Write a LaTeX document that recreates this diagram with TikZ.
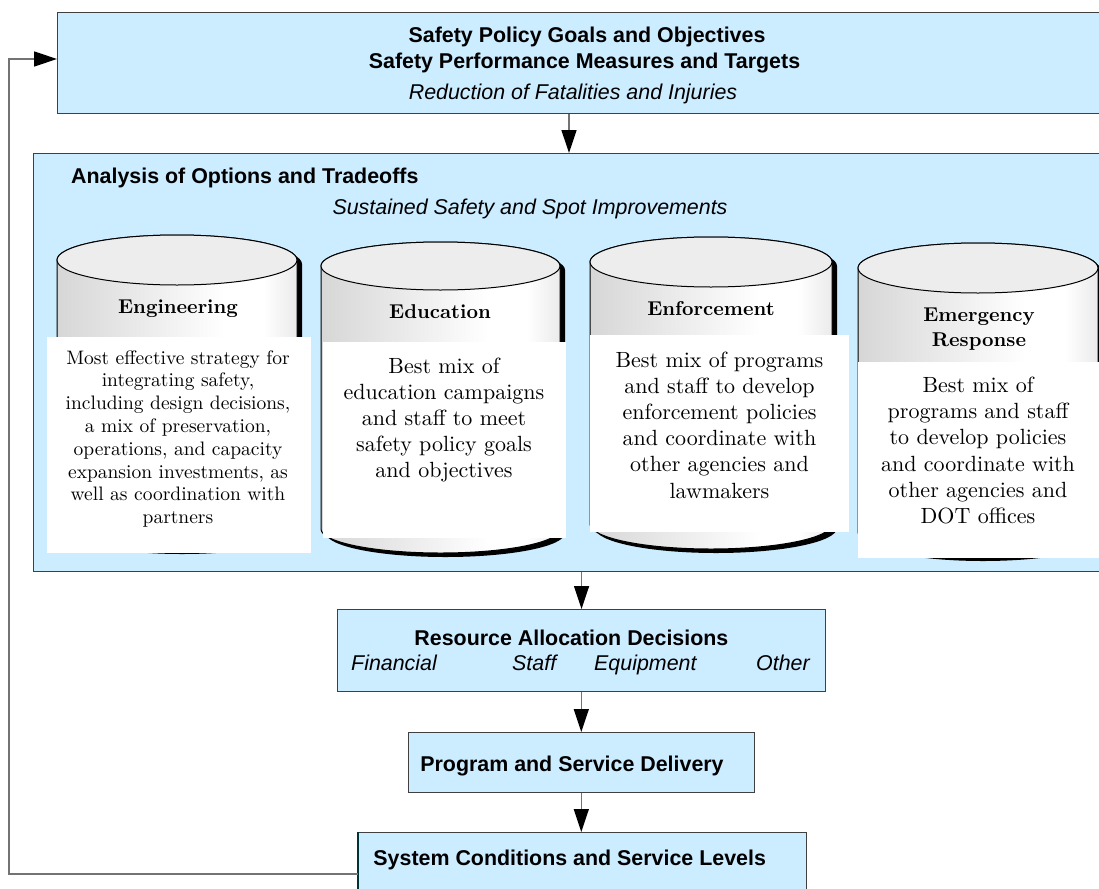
\documentclass[tikz,border=0pt]{standalone}
\usepackage{fontspec}
\setsansfont{Liberation Sans}
\newfontfamily\cylfont[BoldFont=lmroman10-bold.otf]{lmroman10-regular.otf}
\usetikzlibrary{arrows.meta}
\definecolor{boxblue}{RGB}{204,236,255}
\pgfdeclarehorizontalshading{cylsh}{100bp}{color(0bp)=(black!16); color(25bp)=(black!16); color(60bp)=(white); color(68bp)=(white); color(75bp)=(black!8); color(100bp)=(black!8)}
\newcommand{\mycyl}[5]{%
  \pgfmathsetmacro{\cylrx}{(#2-#1)/2}%
  \pgfmathsetmacro{\cylcx}{(#2+#1)/2}%
  \begin{scope}[shift={(5,4)}]
    \fill[black] (#1,#3) -- (#1,#4) arc[start angle=180,end angle=360,x radius=\cylrx pt,y radius=#5pt] -- (#2,#3) arc[start angle=0,end angle=180,x radius=\cylrx pt,y radius=#5pt] -- cycle;
  \end{scope}
  \shadedraw[shading=cylsh, draw=black, line width=1pt] (#1,#3) -- (#1,#4) arc[start angle=180,end angle=360,x radius=\cylrx pt,y radius=#5pt] -- (#2,#3) arc[start angle=0,end angle=180,x radius=\cylrx pt,y radius=#5pt] -- cycle;
  \filldraw[fill=black!7, draw=black, line width=1pt] (\cylcx,#3) ellipse [x radius=\cylrx pt, y radius=#5pt];
}
\begin{document}
\begin{tikzpicture}[x=1pt,y=-1pt,
  bluebox/.style={draw=black!75, line width=1.1pt, fill=boxblue, inner sep=0pt, anchor=north west},
  conn/.style={draw=black!55, line width=1.4pt, -{Triangle[length=23pt,width=15pt,color=black]}},
  ssb/.style={font=\fontsize{21.4}{25}\selectfont\sffamily\bfseries, inner sep=0pt, anchor=base},
  ssi/.style={font=\fontsize{21.4}{25}\selectfont\sffamily\itshape, inner sep=0pt, anchor=base},
  ctitle/.style={font=\cylfont\fontsize{20}{25}\selectfont\bfseries, inner sep=0pt, anchor=base},
  ctext/.style={font=\cylfont\fontsize{22}{26.2}\selectfont, align=center, inner sep=0pt},
  wrect/.style={fill=white, inner sep=0pt, anchor=north west},
]
\path[use as bounding box, clip] (0,0) rectangle (1099,888);
\fill[white] (0,0) rectangle (1099,888);

% boxes
\node[bluebox, minimum width=1060, minimum height=101] (topbox) at (57,12) {};
\node[bluebox, minimum width=1080, minimum height=418] (analysis) at (33,153) {};
\node[bluebox, minimum width=488, minimum height=82] (resource) at (337,609) {};
\node[bluebox, minimum width=345.5, minimum height=60] (program) at (408,732) {};
\node[bluebox, minimum width=448, minimum height=80] (system) at (358,832) {};
\draw[teal!40!black, line width=2pt] (system.north west) -- (system.south west);

% cylinders
\mycyl{57}{297}{260}{525}{25}
\mycyl{321}{560}{266}{529}{24}
\mycyl{590}{832}{262}{524}{25}
\mycyl{858}{1098}{268}{532}{25}

% white text panels
\node[wrect, minimum width=264, minimum height=216] (rEng) at (47,337) {};
\node[wrect, minimum width=243, minimum height=196] (rEdu) at (323,342) {};
\node[wrect, minimum width=259, minimum height=197] (rEnf) at (590,335) {};
\node[wrect, minimum width=245, minimum height=196] (rEme) at (858,362) {};

% cylinder titles
\node[ctitle] (tEng) at (178,313) {Engineering};
\node[ctitle] (tEdu) at (440,318) {Education};
\node[ctitle] (tEnf) at (711,315) {Enforcement};
\node[ctitle, anchor=center, align=center] (tEme) at (979,329.6) {Emergency\\Response};

% cylinder texts
\node[ctext, font=\cylfont\fontsize{19.5}{22.8}\selectfont] (xEng) at (178,439) {Most effective strategy for\\integrating safety,\\including design decisions,\\a mix of preservation,\\operations, and capacity\\expansion investments, as\\well as coordination with\\partners};
\node[ctext] (xEdu) at (444,420) {Best mix of\\education campaigns\\and staff to meet\\safety policy goals\\and objectives};
\node[ctext] (xEnf) at (719.5,425) {Best mix of programs\\and staff to develop\\enforcement policies\\and coordinate with\\other agencies and\\lawmakers};
\node[ctext] (xEme) at (978,450.4) {Best mix of\\programs and staff\\to develop policies\\and coordinate with\\other agencies and\\DOT offices};

% sans texts
\node[ssb] (t1) at (587,43) {Safety Policy Goals and Objectives};
\node[ssb] (t2) at (584.5,69) {Safety Performance Measures and Targets};
\node[ssi] (t3) at (573,100) {Reduction of Fatalities and Injuries};
\node[ssb, anchor=base west] (ta) at (71,183) {Analysis of Options and Tradeoffs};
\node[ssi] (ts) at (530,214) {Sustained Safety and Spot Improvements};
\node[ssb] (tr) at (571.4,645) {Resource Allocation Decisions};
\node[ssi, anchor=base west] (f1) at (351,670) {Financial};
\node[ssi, anchor=base west] (f2) at (512,670) {Staff};
\node[ssi, anchor=base west] (f3) at (594,670) {Equipment};
\node[ssi, anchor=base west] (f4) at (756,670) {Other};
\node[ssb] (tp) at (572,771) {Program and Service Delivery};
\node[ssb] (tsys) at (569.7,865) {System Conditions and Service Levels};

% connectors
\coordinate (a1) at (569,0);
\draw[conn] (topbox.south -| a1) -- (analysis.north -| a1);
\draw[conn] (analysis.south -| resource.north) -- (resource.north);
\draw[conn] (resource.south -| program.north) -- (program.north);
\draw[conn] (program.south) -- (program.south |- system.north);
\coordinate (fbb) at (9,874);
\coordinate (fbt) at (9,59);
\draw[conn] (system.west |- fbb) -- (fbb) -- (fbt) -- (topbox.west |- fbt);
\end{tikzpicture}
\end{document}
